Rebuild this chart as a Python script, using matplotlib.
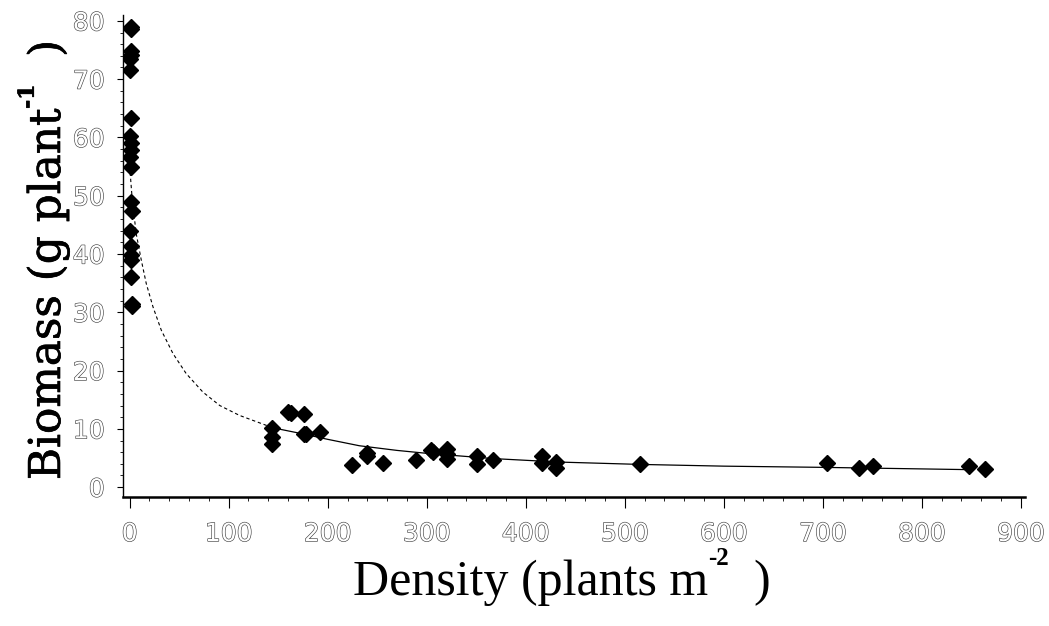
import numpy as np
import matplotlib
matplotlib.use('Agg')
import matplotlib.pyplot as plt
import matplotlib.patheffects as pe
from matplotlib.ticker import MultipleLocator

# observed plants near zero density
low_density = [1.5, 1.5, 1, 1, 0.5, 0, 1, 0.5, 1, 1, 0.5, 1,
               1.5, 2.5, 0, 1, 1, 1, 1.5, 2.5, 2.5]
low_biomass = [79.0, 78.6, 74.9, 74.2, 73.4, 71.6, 63.4, 60.2, 59.1, 57.8, 56.7, 55.0,
               48.9, 47.3, 44.0, 41.3, 39.8, 39.0, 36.1, 31.5, 31.1]

# observed plants at higher density
high_density = [144, 144, 144, 160, 163, 176, 176, 178, 192, 225, 240, 240, 256,
                289, 304, 306, 320, 320, 320, 351, 351, 367, 416, 416, 431, 431,
                515, 704, 736, 751, 848, 864]
high_biomass = [10.2, 8.6, 7.4, 12.9, 12.8, 12.5, 9.1, 9.2, 9.5, 3.8, 5.9, 5.3, 4.1,
                4.7, 6.3, 6.0, 6.5, 5.6, 4.8, 5.3, 3.9, 4.7, 5.4, 4.1, 4.3, 3.2,
                4.0, 4.1, 3.3, 3.7, 3.7, 3.1]

# fitted curve (dashed below 144 plants m-2)
fit_x_dashed = [0, 2.7, 6.7, 11.8, 16.8, 23.6, 32, 43.8, 57, 74, 91, 111, 138, 144]
fit_y_dashed = [55, 49.1, 43.4, 38.9, 34.9, 30.9, 26.9, 22.9, 19.5, 16.3, 14.0, 12.3, 10.6, 10.2]
fit_x_solid = [144, 176, 200, 232, 270, 300, 367, 434, 515, 600, 697, 848]
fit_y_solid = [10.2, 9.1, 8.2, 7.1, 6.3, 5.8, 4.9, 4.3, 3.9, 3.6, 3.4, 3.0]

x_ticks = [0, 100, 200, 300, 400, 500, 600, 700, 800, 900]
y_ticks = [0, 10, 20, 30, 40, 50, 60, 70, 80]

fig = plt.figure(figsize=(10.49, 6.26), dpi=100)
ax = fig.add_axes([0.117, 0.206, 0.86, 0.77])

ax.plot(fit_x_dashed, fit_y_dashed, c='black', lw=0.8, ls=(0, (3, 2.5)))
ax.plot(fit_x_solid, fit_y_solid, c='black', lw=0.9)
ax.plot(low_density, low_biomass, 'D', c='black', ms=8.3, mec='black')
ax.plot(high_density, high_biomass, 'D', c='black', ms=8.3, mec='black')

ax.set_xlim(-7, 904)
ax.set_ylim(-1.7, 81)
ax.set_xticks(x_ticks)
ax.set_yticks(y_ticks)
ax.xaxis.set_minor_locator(MultipleLocator(20))
ax.yaxis.set_minor_locator(MultipleLocator(2))

for s in ['top', 'right']:
    ax.spines[s].set_visible(False)
ax.spines['bottom'].set_linewidth(1.8)
ax.spines['left'].set_linewidth(1.0)

ax.tick_params(axis='x', which='major', length=8, width=0.8, pad=10)
ax.tick_params(axis='x', which='minor', length=3, width=0.6)
ax.tick_params(axis='y', which='major', length=4, width=0.8, pad=9)
ax.tick_params(axis='y', which='minor', length=2.5, width=0.6)

hollow = [pe.withStroke(linewidth=0.9, foreground='#444444')]
for lab in ax.get_xticklabels() + ax.get_yticklabels():
    lab.set_fontfamily('Liberation Sans Narrow')
    lab.set_fontsize(18)
    lab.set_color('white')
    lab.set_path_effects(hollow)


def label_with_power(parts, anchor, size, vertical, family, effects=None):
    """
    Writes a serif label with a small raised exponent, centred on anchor
    (display pixels, origin at the bottom left)
    """
    main, power, tail = parts
    renderer = fig.canvas.get_renderer()
    rot = 90 if vertical else 0
    kw = dict(transform=None, family=family, rotation=rot,
              rotation_mode='anchor', ha='left', va='baseline')
    pieces = [(main, size, 'normal', 0), (power, size * 0.5, 'bold', size * 0.6),
              (tail, size, 'normal', 0)]
    texts, lengths = [], []
    for txt, sz, wt, rise in pieces:
        t = fig.text(0, 0, txt, fontsize=sz, fontweight=wt, path_effects=effects, **kw)
        bb = t.get_window_extent(renderer)
        texts.append((t, rise))
        lengths.append(bb.height if vertical else bb.width)
    total = sum(lengths)
    pos = -total / 2
    for (t, rise), ln in zip(texts, lengths):
        rise_px = rise * fig.dpi / 72
        if vertical:
            t.set_position((anchor[0] - rise_px, anchor[1] + pos))
        else:
            t.set_position((anchor[0] + pos, anchor[1] + rise_px))
        pos += ln


label_with_power(('Density (plants m', '-2', '  )'), (562, 31), 36, False,
                 'Liberation Serif')
label_with_power(('Biomass (g plant', '-1', '  )'), (60, 366), 31.5, True,
                 'DejaVu Serif', [pe.withStroke(linewidth=0.5, foreground='black')])

plt.savefig('out.png', dpi=100)
